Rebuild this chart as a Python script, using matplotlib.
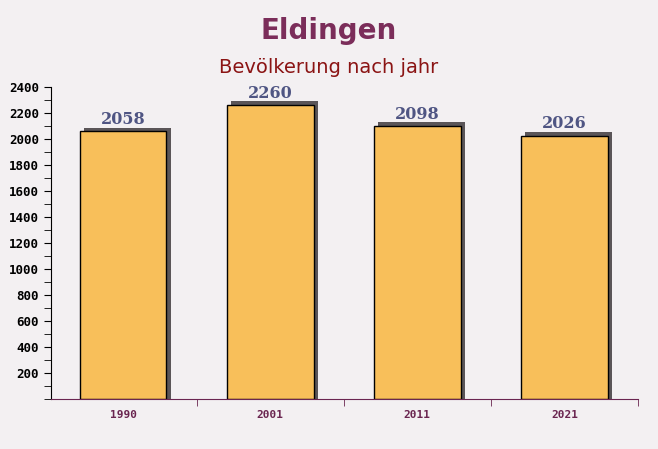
import matplotlib.pyplot as plt
from matplotlib.ticker import MultipleLocator

years = ["1990", "2001", "2011", "2021"]
population = [2058, 2260, 2098, 2026]

fig = plt.figure(figsize=(6.58, 4.49), dpi=100)
fig.patch.set_facecolor("#f3f0f2")
ax = fig.add_axes([51 / 658, 50 / 449, 587 / 658, 312 / 449])
ax.set_facecolor("none")

x = list(range(len(years)))
# shadow behind each bar
ax.bar([i + 0.028 for i in x], [p + 30 for p in population], width=0.59,
       color="#5a5558", zorder=1)
ax.bar(x, population, width=0.59, color="#f8bf5a", edgecolor="black",
       linewidth=1, zorder=2)

for i, p in zip(x, population):
    ax.text(i, p + 25, str(p), ha="center", va="bottom", fontsize=11.5,
            fontweight="bold", family="DejaVu Serif", color="#4f5583")

ax.set_xlim(-0.49, 3.5)
ax.set_ylim(0, 2400)
ax.set_xticks(x)
ax.set_xticklabels(years, family="DejaVu Sans Mono", fontweight="bold",
                   fontsize=8, color="#6a2550")
ax.set_xticks([0.5, 1.5, 2.5, 3.5], minor=True)
ax.tick_params(axis="x", which="major", length=0, pad=8)
ax.tick_params(axis="x", which="minor", length=5, color="#6a2550")
ax.set_yticks(range(200, 2401, 200))
ax.yaxis.set_minor_locator(MultipleLocator(100))
ax.tick_params(axis="y", which="both", length=5, labelsize=9)
for lbl in ax.get_yticklabels():
    lbl.set_family("DejaVu Sans Mono")
    lbl.set_fontweight("bold")

for side in ["top", "right"]:
    ax.spines[side].set_visible(False)
ax.spines["bottom"].set_color("#6a2550")

fig.text(0.5, 0.93, "Eldingen", ha="center", va="center", fontsize=20,
         fontweight="bold", color="#7b2d5a")
fig.text(0.5, 0.85, "Bevölkerung nach jahr", ha="center", va="center",
         fontsize=14, color="#8b1414")

fig.savefig("out.png", dpi=100, facecolor=fig.get_facecolor())
